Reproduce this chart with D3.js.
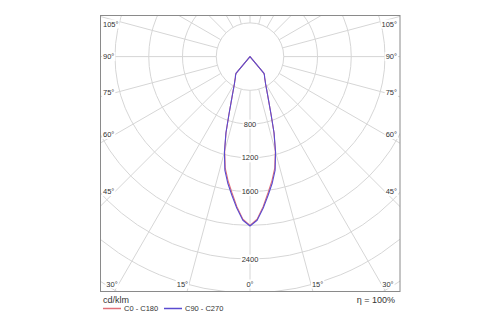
<!DOCTYPE html>
<html><head><meta charset="utf-8">
<script src="https://cdn.jsdelivr.net/npm/d3@7"></script>
<style>body{margin:0;background:#fff}svg{display:block}</style>
</head><body>
<svg id="c" width="500" height="325"></svg>
<script>
// ---- data ----
const angles = [0,2.5,5,7.5,10,12.5,15,17.5,20,22.5,25,27.5,30,32.5,35,37.5,40,42.5,45,50,60,70,80,90,100,110,120,130,140,150,160,170,180];
const c0c180 = [2000,1930,1785,1630,1495,1355,1160,945,730,586,489,420,368,333,302,282,258,0,0,0,0,0,0,0,0,0,0,0,0,0,0,0,0];
const c90c270 = [2008,1942,1801,1654,1521,1377,1171,949,730,586,489,420,368,333,302,282,258,0,0,0,0,0,0,0,0,0,0,0,0,0,0,0,0];
const ringValues = [400,800,1200,1600,2000,2400,2800,3200];
const ringLabels = [800,1200,1600,2400];
const spokeAngles = [0,15,30,45,60,75,90,105,120,135,150,165,180];
const seriesNames = ["C0 - C180","C90 - C270"];
const seriesColors = ["#e07078","#5a4bd0"];
const unitLabel = "cd/klm";
const etaLabel = "\u03b7 = 100%";

// ---- layout ----
const svg = d3.select("#c");
const box = {x0:100.5, y0:15.5, x1:400, y1:291.5};
const cx = 250, cy = 56.6;
const r = d3.scaleLinear().domain([0,400]).range([0,33.75]);
const font = "'Liberation Sans', Arial, sans-serif";

svg.append("defs").append("clipPath").attr("id","clip")
  .append("rect").attr("x",box.x0).attr("y",box.y0)
  .attr("width",box.x1-box.x0).attr("height",box.y1-box.y0);

const g = svg.append("g").attr("clip-path","url(#clip)");
const gridColor = "#d6d6d6";

// rings
g.selectAll("circle.ring").data(ringValues).join("circle")
  .attr("cx",cx).attr("cy",cy).attr("r",d=>r(d))
  .attr("fill","none").attr("stroke",gridColor).attr("stroke-width",1);

// spokes (both sides)
const rad = d=>d*Math.PI/180;
const spokes = [];
spokeAngles.forEach(a=>{ spokes.push({a,s:-1}); if(a>0&&a<180) spokes.push({a,s:1}); });
g.selectAll("line.spoke").data(spokes).join("line")
  .attr("x1",d=>cx+d.s*r(400)*Math.sin(rad(d.a)))
  .attr("y1",d=>cy+r(400)*Math.cos(rad(d.a)))
  .attr("x2",d=>cx+d.s*r(6000)*Math.sin(rad(d.a)))
  .attr("y2",d=>cy+r(6000)*Math.cos(rad(d.a)))
  .attr("stroke",gridColor).attr("stroke-width",1);

// curves
function pts(vals){
  const left = angles.map((a,i)=>[cx - r(vals[i])*Math.sin(rad(a)), cy + r(vals[i])*Math.cos(rad(a))]).reverse();
  const right = angles.map((a,i)=>[cx + r(vals[i])*Math.sin(rad(a)), cy + r(vals[i])*Math.cos(rad(a))]);
  return left.concat(right.slice(1));
}
const line = d3.line();
[c0c180,c90c270].forEach((vals,i)=>{
  g.append("path").attr("d",line(pts(vals))+"Z")
    .attr("fill","none").attr("stroke",seriesColors[i]).attr("stroke-width",1.1)
    .attr("stroke-linejoin","round");
});

// labels with white background
const lab = svg.append("g").attr("font-family",font).attr("fill","#333");
function label(txt,x,y,anchor,size){
  const t = lab.append("text").attr("x",x).attr("y",y).attr("text-anchor",anchor)
    .attr("dominant-baseline","central").attr("font-size",size).text(txt);
  const bb = t.node().getBBox();
  lab.insert("rect","text:last-child").attr("x",bb.x-1).attr("y",bb.y).attr("width",bb.width+2).attr("height",bb.height)
    .attr("fill","#fff");
  return t;
}

// radial value labels
ringLabels.forEach(v=>label(String(v),cx,cy+r(v),"middle",7.5));

// angle labels
const bottomY = box.y1-7.5;
spokeAngles.forEach(a=>{
  const ra = rad(a);
  const xb = (a<90) ? (box.y1-cy)*Math.tan(ra) : Infinity;
  if(a<90 && xb < (cx-box.x0)){
    const dx = (bottomY-cy)*Math.tan(ra);
    if(a===0){ label("0°",cx,bottomY,"middle",7.5); }
    else {
      label(a+"°",cx-dx-1,bottomY,"end",7.5);
      label(a+"°",cx+dx+1,bottomY,"start",7.5);
    }
  } else {
    const dx = 135;
    let y = cy + dx/Math.tan(ra);
    if(a===90) y = cy;
    const ySide = cy + (cx-box.x0)/Math.tan(ra);
    if(a!==90 && ySide < box.y0) return;
    y = Math.max(y, box.y0+8.5);
    label(a+"°",box.x0+2.5,y,"start",7.5);
    label(a+"°",box.x1-3,y,"end",7.5);
  }
});

// frame
svg.append("rect").attr("x",box.x0).attr("y",box.y0).attr("width",box.x1-box.x0).attr("height",box.y1-box.y0)
  .attr("fill","none").attr("stroke","#8a8a8a").attr("stroke-width",1);

// footer
svg.append("text").attr("x",103).attr("y",302.5).attr("font-family",font).attr("font-size",9).attr("fill","#333").text(unitLabel);
svg.append("text").attr("x",395).attr("y",303).attr("text-anchor","end").attr("font-family",font).attr("font-size",9).attr("fill","#333").text(etaLabel);
const legX = [103,164];
seriesNames.forEach((n,i)=>{
  svg.append("line").attr("x1",legX[i]).attr("x2",legX[i]+18).attr("y1",308.5).attr("y2",308.5)
    .attr("stroke",seriesColors[i]).attr("stroke-width",1.5);
  svg.append("text").attr("x",legX[i]+21).attr("y",311).attr("font-family",font).attr("font-size",7.5)
    .attr("fill","#333").text(n);
});
</script>
</body></html>
